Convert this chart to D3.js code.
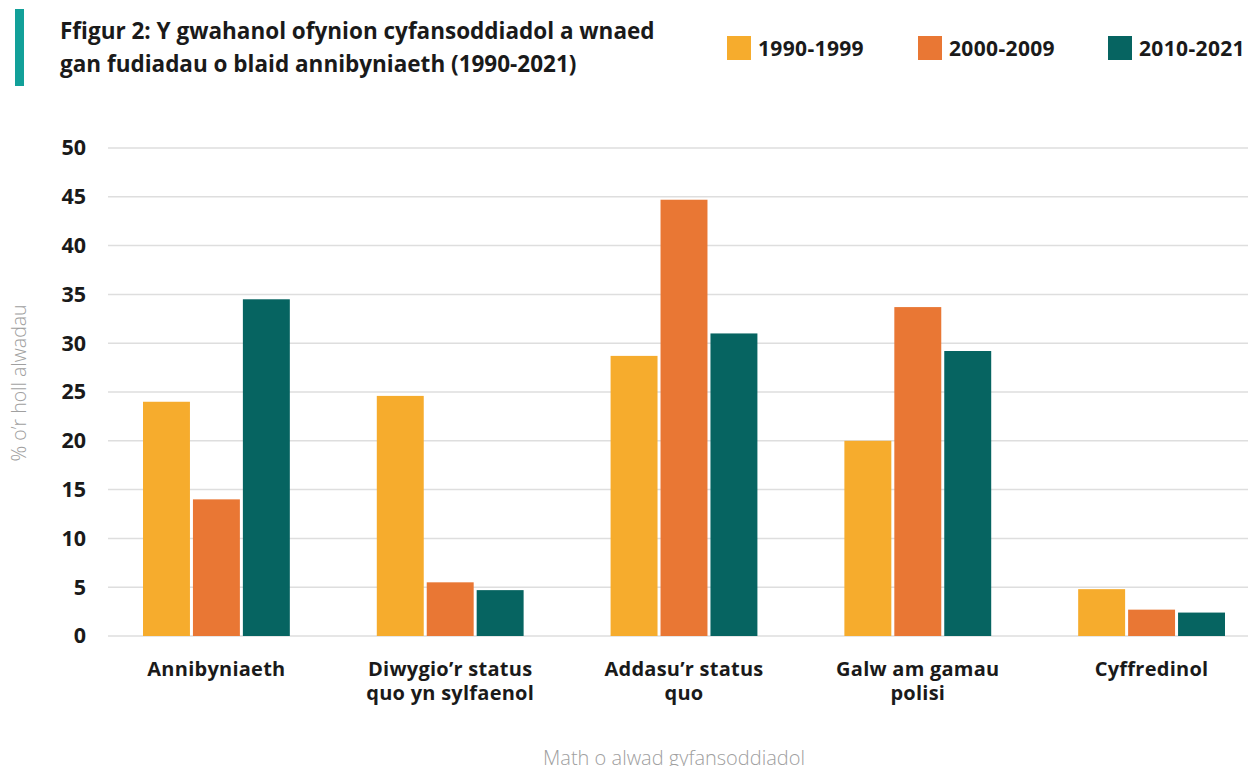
<!DOCTYPE html>
<html>
  <head>
    <meta charset="utf-8" />
    <script src="https://d3js.org/d3.v7.min.js"></script>
    <style>
      body {
        margin: 0;
        background: #fff;
      }
      text {
        font-family: "Open Sans", "Noto Sans", sans-serif;
      }
      .grid line {
        stroke: #dedede;
        stroke-width: 1.5px;
      }
    </style>
  </head>
  <body>
    <svg id="chart" width="1248" height="766"></svg>

    <script>
      // Data
      const categories = [
        ["Annibyniaeth"],
        ["Diwygio\u2019r status", "quo yn sylfaenol"],
        ["Addasu\u2019r status", "quo"],
        ["Galw am gamau", "polisi"],
        ["Cyffredinol"],
      ];
      const periods = ["1990-1999", "2000-2009", "2010-2021"];
      const values1990 = [24.0, 24.6, 28.7, 20.0, 4.8];
      const values2000 = [14.0, 5.5, 44.7, 33.7, 2.7];
      const values2010 = [34.5, 4.7, 31.0, 29.2, 2.4];
      const yTicks = [0, 5, 10, 15, 20, 25, 30, 35, 40, 45, 50];
      const colors = ["#f6ac2d", "#e97734", "#066461"];

      const svg = d3.select("#chart");
      const catKeys = categories.map((c) => c.join(" "));
      const series = [values1990, values2000, values2010];

      // scales
      let yScale = d3.scaleLinear().domain([0, 50]).range([636, 148]);
      let x0 = d3
        .scaleBand()
        .domain(catKeys)
        .range([143, 1225])
        .paddingInner(0.372)
        .paddingOuter(0);
      let x1 = d3
        .scaleBand()
        .domain(periods)
        .range([0, x0.bandwidth()])
        .paddingInner(0.06);
      let color = d3.scaleOrdinal().domain(periods).range(colors);

      // title + accent bar
      svg
        .append("rect")
        .attr("x", 15)
        .attr("y", 9)
        .attr("width", 9)
        .attr("height", 77)
        .attr("fill", "#12a099");
      let title = svg
        .append("text")
        .attr("x", 60)
        .attr("y", 39)
        .style("font-size", "22.5px")
        .style("font-weight", 700)
        .attr("fill", "#1a1a1a");
      title.append("tspan").text("Ffigur 2: Y gwahanol ofynion cyfansoddiadol a wnaed");
      title
        .append("tspan")
        .attr("x", 60)
        .attr("dy", 33)
        .text("gan fudiadau o blaid annibyniaeth (1990-2021)");

      // legend
      const legendX = [727, 918, 1108];
      let legend = svg
        .selectAll("g.legend")
        .data(periods)
        .join("g")
        .attr("class", "legend")
        .attr("transform", (d, i) => `translate(${legendX[i]},36)`);
      legend
        .append("rect")
        .attr("width", 24)
        .attr("height", 24)
        .attr("fill", (d) => color(d));
      legend
        .append("text")
        .attr("x", 31)
        .attr("y", 20)
        .style("font-size", "21px")
        .style("font-weight", 700)
        .style("letter-spacing", "0.35px")
        .attr("fill", "#1a1a1a")
        .text((d) => d);

      // gridlines
      svg
        .append("g")
        .attr("class", "grid")
        .selectAll("line")
        .data(yTicks)
        .join("line")
        .attr("x1", 108)
        .attr("x2", 1248)
        .attr("y1", (d) => yScale(d))
        .attr("y2", (d) => yScale(d));

      // y axis labels
      let yAxis = svg
        .append("g")
        .attr("transform", "translate(86,0)")
        .call(d3.axisLeft(yScale).tickValues(yTicks).tickSize(0).tickPadding(0));
      yAxis.select(".domain").remove();
      yAxis
        .selectAll("text")
        .style("font-family", "'Open Sans', sans-serif")
        .style("font-size", "21.5px")
        .style("font-weight", 700)
        .attr("fill", "#1a1a1a");

      // bars
      let groups = svg
        .selectAll("g.group")
        .data(catKeys)
        .join("g")
        .attr("class", "group")
        .attr("transform", (d) => `translate(${x0(d)},0)`);
      groups
        .selectAll("rect")
        .data((d, i) => periods.map((p, j) => ({ period: p, value: series[j][i] })))
        .join("rect")
        .attr("x", (d) => x1(d.period))
        .attr("width", x1.bandwidth())
        .attr("y", (d) => yScale(d.value))
        .attr("height", (d) => yScale(0) - yScale(d.value))
        .attr("fill", (d) => color(d.period));

      // category labels
      let labels = svg
        .selectAll("text.cat")
        .data(categories)
        .join("text")
        .attr("class", "cat")
        .attr("text-anchor", "middle")
        .attr("y", 676)
        .style("font-size", "20px")
        .style("font-weight", 700)
        .style("letter-spacing", "0.25px")
        .attr("fill", "#1a1a1a");
      labels
        .selectAll("tspan")
        .data((d) => d.map((line) => ({ line, key: d.join(" ") })))
        .join("tspan")
        .attr("x", (d) => x0(d.key) + x0.bandwidth() / 2)
        .attr("dy", (d, i) => (i === 0 ? 0 : 24))
        .text((d) => d.line);

      // axis titles
      svg
        .append("text")
        .attr("transform", "translate(26,383) rotate(-90)")
        .attr("text-anchor", "middle")
        .style("font-size", "19.5px")
        .style("font-weight", 300)
        .attr("fill", "#a0a0a0")
        .text("% o\u2019r holl alwadau");
      svg
        .append("text")
        .attr("x", 674)
        .attr("y", 765)
        .attr("text-anchor", "middle")
        .style("font-size", "20px")
        .style("font-weight", 300)
        .attr("fill", "#a0a0a0")
        .text("Math o alwad gyfansoddiadol");
    </script>
  </body>
</html>
